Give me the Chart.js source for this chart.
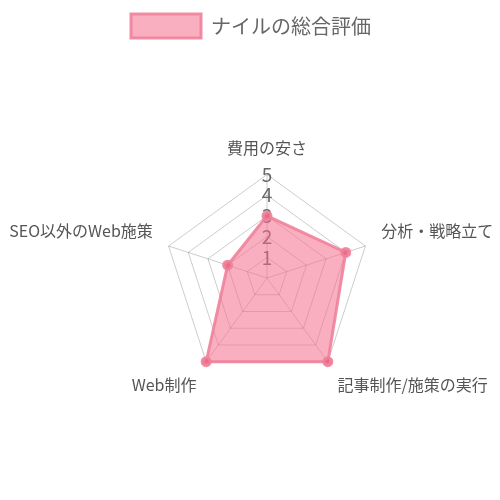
<!DOCTYPE html>
<html>
<head>
<meta charset="utf-8">
<script src="https://cdn.jsdelivr.net/npm/chart.js@4/dist/chart.umd.min.js"></script>
<style>
  body { margin: 0; background: #fff; }
  #wrap { width: 500px; height: 500px; }
</style>
</head>
<body>
<div id="wrap"><canvas id="chart"></canvas></div>
<script>
const labels = ['費用の安さ', '分析・戦略立て', '記事制作/施策の実行', 'Web制作', 'SEO以外のWeb施策'];
const values = [3, 4, 5, 5, 2];
const seriesName = 'ナイルの総合評価';
const tickMin = 0;
const tickMax = 5;

const font = "'Noto Sans CJK JP', 'Noto Sans', sans-serif";

const ctx = document.getElementById('chart').getContext('2d');
const chart = new Chart(ctx, {
    type: 'radar',
    data: {
        labels: labels,
        datasets: [{
            label: seriesName,
            data: values,
            backgroundColor: 'rgba(245, 110, 140, 0.55)',
            borderColor: 'rgba(240, 130, 155, 0.9)',
            borderWidth: 3,
            pointBackgroundColor: 'rgba(235, 100, 135, 0.8)',
            pointBorderColor: 'rgba(240, 130, 155, 0.9)',
            pointRadius: 4
        }]
    },
    options: {
        responsive: true,
        maintainAspectRatio: false,
        animation: false,
        layout: { padding: { top: 4, bottom: 14, left: 2, right: 0 } },
        plugins: {
            legend: {
                labels: {
                    color: '#666',
                    font: { family: font, size: 20 },
                    boxWidth: 70,
                    boxHeight: 24,
                    padding: 10
                }
            },
            tooltip: { enabled: false }
        },
        scales: {
            r: {
                min: tickMin,
                max: tickMax,
                ticks: {
                    stepSize: 1,
                    showLabelBackdrop: false,
                    color: '#666',
                    font: { family: font, size: 19 }
                },
                pointLabels: {
                    color: '#555',
                    font: { family: font, size: 16 }
                },
                grid: { color: 'rgba(0,0,0,0.2)' },
                angleLines: { color: 'rgba(0,0,0,0.2)' }
            }
        }
    }
});
</script>
</body>
</html>
